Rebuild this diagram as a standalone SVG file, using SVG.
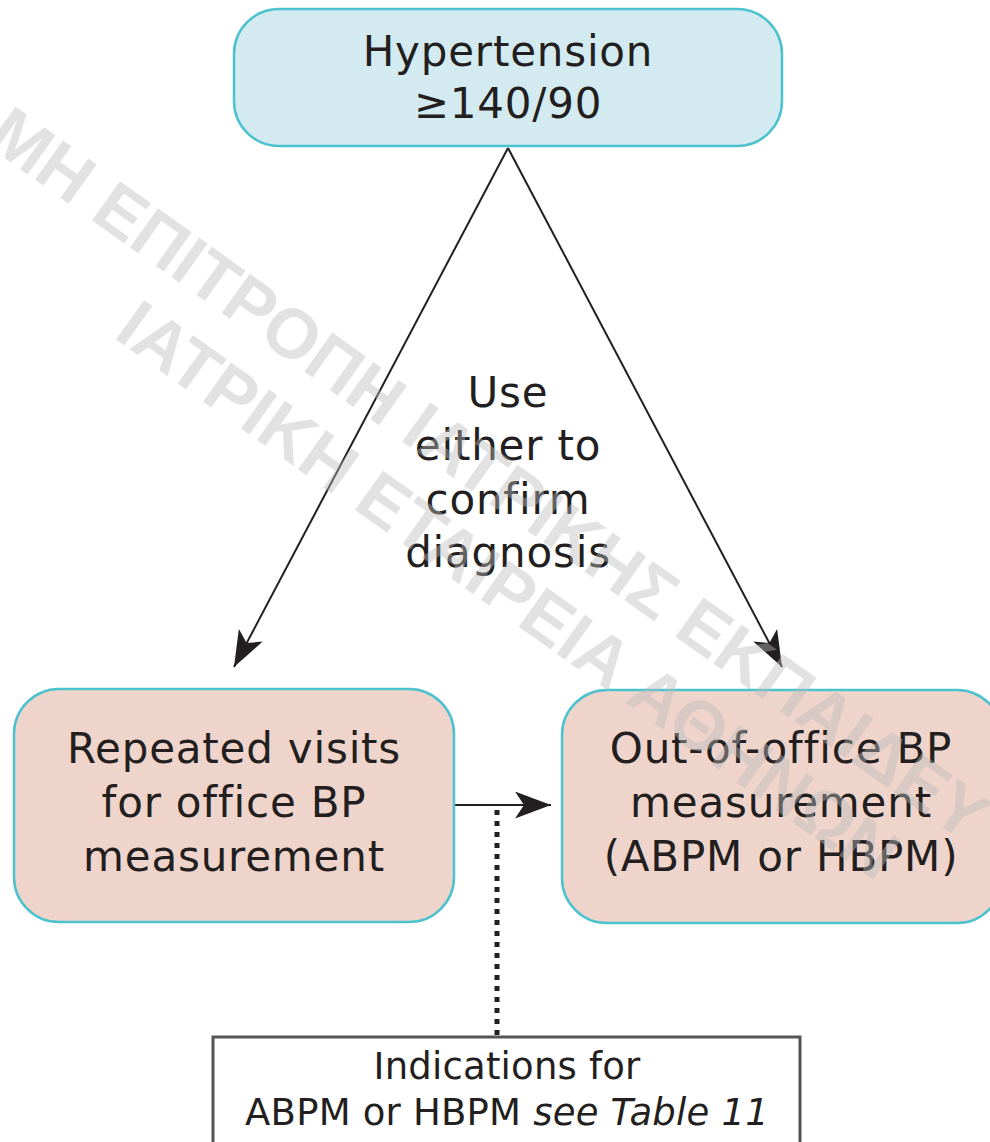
<svg xmlns="http://www.w3.org/2000/svg" width="990" height="1142" viewBox="0 0 990 1142">
  <style>
    .lbl { font-family: "DejaVu Sans", "Liberation Sans", sans-serif; font-size: 42px; letter-spacing: 0.8px; fill: #231f20; text-anchor: middle; }
    .small { font-family: "DejaVu Sans", "Liberation Sans", sans-serif; font-size: 37px; letter-spacing: 0.2px; fill: #231f20; text-anchor: middle; }
    .blue { fill: #d3ebf0; stroke: #4cc2cf; stroke-width: 2.5; }
    .pink { fill: #efd4cb; stroke: #4cc2cf; stroke-width: 2.5; }
    .edge { stroke: #231f20; stroke-width: 2; fill: none; }
    .wm { font-family: "Liberation Sans", "DejaVu Sans", sans-serif; font-size: 70px; font-weight: bold; fill: #bbbbbb; fill-opacity: 0.42; }
  </style>
  <defs>
    <marker id="headWide" viewBox="0 0 10 10" refX="10" refY="5" markerWidth="36" markerHeight="27" markerUnits="userSpaceOnUse" orient="auto" preserveAspectRatio="none">
      <path d="M0,0 L10,5 L0,10 L2.5,5 Z" fill="#231f20"/>
    </marker>
  </defs>

  <rect width="990" height="1142" fill="#ffffff"/>

  <!-- connectors -->
  <g id="connectors">
    <line class="edge" x1="508" y1="148" x2="234" y2="667" marker-end="url(#headWide)"/>
    <line class="edge" x1="508" y1="148" x2="782" y2="667" marker-end="url(#headWide)"/>
    <line class="edge" x1="455" y1="805" x2="551" y2="805" stroke-width="3" marker-end="url(#headWide)"/>
    <line x1="497" y1="810" x2="497" y2="1037" stroke="#231f20" stroke-width="5" stroke-dasharray="5 6"/>
  </g>

  <!-- nodes -->
  <g id="hypertension">
    <rect class="blue" x="234" y="9" width="548" height="137" rx="45" ry="45"/>
    <text class="lbl" x="508" y="66">Hypertension</text>
    <text class="lbl" x="508" y="118">≥140/90</text>
  </g>

  <g id="confirm-note">
    <text class="lbl" x="508" y="407">Use</text>
    <text class="lbl" x="508" y="460">either to</text>
    <text class="lbl" x="508" y="514">confirm</text>
    <text class="lbl" x="508" y="567">diagnosis</text>
  </g>

  <g id="office-visits">
    <rect class="pink" x="14" y="689" width="440" height="233" rx="45" ry="45"/>
    <text class="lbl" x="234" y="763">Repeated visits</text>
    <text class="lbl" x="234" y="817">for office BP</text>
    <text class="lbl" x="234" y="871">measurement</text>
  </g>

  <g id="out-of-office">
    <rect class="pink" x="562" y="690" width="440" height="233" rx="45" ry="45"/>
    <text class="lbl" x="781" y="763">Out-of-office BP</text>
    <text class="lbl" x="781" y="817">measurement</text>
    <text class="lbl" x="781" y="871">(ABPM or HBPM)</text>
  </g>

  <g id="indications">
    <rect x="213" y="1037" width="587" height="130" fill="#ffffff" stroke="#555555" stroke-width="3"/>
    <text class="small" x="507" y="1079">Indications for</text>
    <text class="small" x="507" y="1125">ABPM or HBPM <tspan font-style="italic">see Table 11</tspan></text>
  </g>

  <!-- diagonal watermark overlay -->
  <g id="watermark" transform="rotate(35.5)">
    <text class="wm" x="70" y="126">ΜΗ ΕΠΙΤΡΟΠΗ ΙΑΤΡΙΚΗΣ ΕΚΠΑΙΔΕΥ</text>
    <text class="wm" x="287" y="209">ΙΑΤΡΙΚΗ ΕΤΑΙΡΕΙΑ ΑΘΗΝΩΝ</text>
  </g>
</svg>
